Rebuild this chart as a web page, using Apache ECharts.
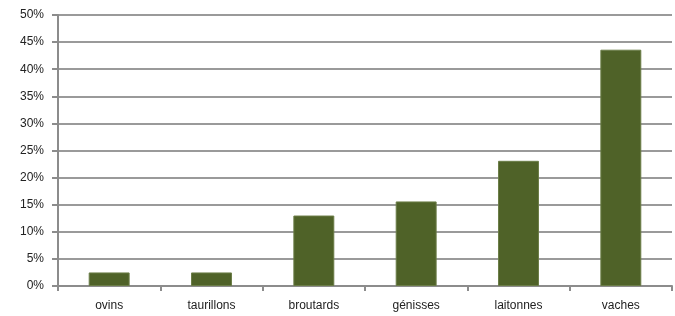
<!DOCTYPE html>
<html>
<head>
<meta charset="utf-8">
<script src="https://cdn.jsdelivr.net/npm/echarts@6/dist/echarts.min.js"></script>
<style>
  html, body { margin: 0; padding: 0; background: #fff; }
  #chart { width: 675px; height: 316px; }
</style>
</head>
<body>
<div id="chart"></div>
<script>
const categories = ['ovins', 'taurillons', 'broutards', 'génisses', 'laitonnes', 'vaches'];
const shares = [2.5, 2.5, 13.0, 15.6, 23.1, 43.6];

const myChart = echarts.init(document.getElementById('chart'));

const option = {
  animation: false,
  grid: {
    left: 58,
    right: 3,
    top: 15,
    bottom: 30
  },
  xAxis: {
    type: 'category',
    data: categories,
    axisLine: {
      lineStyle: { color: '#8c8c8c', width: 2 }
    },
    axisTick: {
      show: true,
      length: 5,
      lineStyle: { color: '#8c8c8c', width: 2 }
    },
    axisLabel: {
      color: '#222',
      fontFamily: 'Liberation Sans',
      fontSize: 12,
      margin: 14
    }
  },
  yAxis: {
    type: 'value',
    min: 0,
    max: 50,
    interval: 5,
    axisLine: {
      show: true,
      lineStyle: { color: '#8c8c8c', width: 2 }
    },
    axisTick: {
      show: true,
      length: 6,
      lineStyle: { color: '#8c8c8c', width: 2 }
    },
    axisLabel: {
      color: '#222',
      fontFamily: 'Liberation Sans',
      fontSize: 12,
      margin: 14,
      formatter: '{value}%'
    },
    splitLine: {
      lineStyle: { color: '#9a9a9a', width: 2 }
    }
  },
  series: [
    {
      type: 'bar',
      data: shares,
      barWidth: '40%',
      itemStyle: {
        color: '#4f6228',
        borderColor: '#6b7d47',
        borderWidth: 1
      }
    }
  ]
};

myChart.setOption(option);
</script>
</body>
</html>
